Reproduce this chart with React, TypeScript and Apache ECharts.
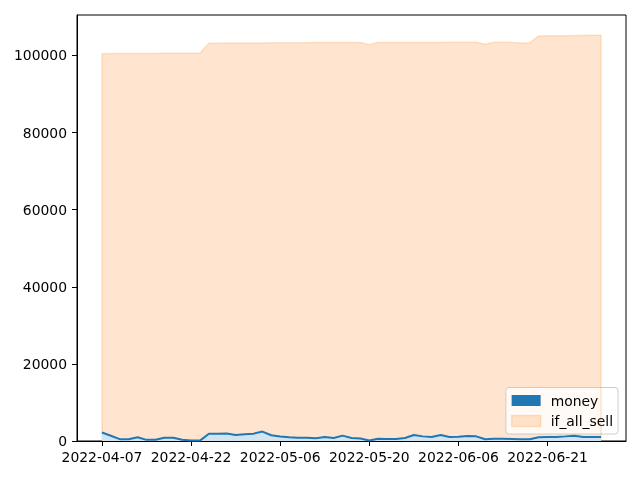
import React, { useEffect, useRef } from "react";
import * as echarts from "echarts";

const dates: string[] = [
  "2022-04-07", "2022-04-08", "2022-04-11", "2022-04-12", "2022-04-13", "2022-04-14",
  "2022-04-18", "2022-04-19", "2022-04-20", "2022-04-21", "2022-04-22",
  "2022-04-25", "2022-04-26", "2022-04-27", "2022-04-28", "2022-04-29",
  "2022-05-02", "2022-05-03", "2022-05-04", "2022-05-05", "2022-05-06",
  "2022-05-09", "2022-05-10", "2022-05-11", "2022-05-12", "2022-05-13",
  "2022-05-16", "2022-05-17", "2022-05-18", "2022-05-19", "2022-05-20",
  "2022-05-23", "2022-05-24", "2022-05-25", "2022-05-26", "2022-05-27",
  "2022-05-31", "2022-06-01", "2022-06-02", "2022-06-03",
  "2022-06-06", "2022-06-07", "2022-06-08", "2022-06-09", "2022-06-10",
  "2022-06-13", "2022-06-14", "2022-06-15", "2022-06-16", "2022-06-17",
  "2022-06-21", "2022-06-22", "2022-06-23", "2022-06-24",
  "2022-06-27", "2022-06-28", "2022-06-29",
];

const money: number[] = [
  2200, 1350, 480, 440, 960, 300, 300, 860, 860, 300,
  100, 100, 1900, 1850, 1950, 1550, 1760, 1900, 2450, 1500,
  1150, 950, 870, 870, 700, 1040, 780, 1400, 780, 650,
  130, 600, 520, 520, 780, 1550, 1200, 1040, 1550, 1040,
  1120, 1300, 1200, 440, 600, 600, 520, 440, 440, 950,
  1040, 1040, 1200, 1380, 1040, 1040, 1040,
];

const ifAllSell: number[] = [
  100450, 100470, 100480, 100500, 100500, 100510, 100520, 100540, 100550, 100560,
  100580, 100600, 103150, 103180, 103200, 103210, 103220, 103240, 103250, 103260,
  103270, 103290, 103300, 103310, 103320, 103330, 103340, 103350, 103360, 103370,
  102800, 103330, 103340, 103340, 103350, 103360, 103370, 103380, 103380, 103390,
  103400, 103410, 103420, 102900, 103420, 103420, 103380, 103250, 103280, 105050,
  105080, 105100, 105120, 105150, 105180, 105200, 105220,
];

const xTicks: number[] = [0, 10, 20, 30, 40, 50];
const yTicks: number[] = [0, 20000, 40000, 60000, 80000, 100000];

const FONT = "DejaVu Sans";
const BLUE = "#1f77b4";
const BLUE_FILL = "rgb(210,228,240)";
const ORANGE_A = "rgba(255,127,14,0.2)";

export default function App() {
  const ref = useRef<HTMLDivElement>(null);

  useEffect(() => {
    if (!ref.current) return;
    const chart = echarts.init(ref.current, null, { renderer: "svg" });
    const n = dates.length;
    const xPad = (n - 1) * 0.05;
    const yMax = Math.max(...ifAllSell) * 1.05;

    const moneyData = money.map((v, i) => [i, v]);
    const sellData = ifAllSell.map((v, i) => [i, v]);

    chart.setOption({
      animation: false,
      textStyle: { fontFamily: FONT },
      grid: {
        left: 77,
        right: 14,
        top: 15,
        bottom: 39,
        show: true,
        borderColor: "#000",
        borderWidth: 1,
        backgroundColor: "transparent",
      },
      legend: {
        orient: "vertical",
        right: 22,
        bottom: 46,
        backgroundColor: "rgba(255,255,255,0.8)",
        borderColor: "#cccccc",
        borderWidth: 1,
        borderRadius: 3,
        padding: [6, 5, 6, 5],
        itemGap: 6.5,
        itemWidth: 29,
        itemHeight: 11,
        textStyle: {
          fontFamily: FONT,
          fontSize: 13.9,
          color: "#000",
          padding: [0, 0, 0, 5],
        },
        data: [
          { name: "money", icon: "rect", itemStyle: { color: BLUE, borderWidth: 0 } },
          {
            name: "if_all_sell",
            icon: "rect",
            itemStyle: { color: ORANGE_A, borderColor: ORANGE_A, borderWidth: 1.5 },
          },
        ],
      },
      xAxis: {
        type: "value",
        min: -xPad,
        max: n - 1 + xPad,
        splitLine: { show: false },
        axisLine: { show: true, onZero: false, lineStyle: { color: "#000", width: 1 } },
        axisTick: {
          show: true,
          length: 5,
          lineStyle: { color: "#000", width: 1 },
          customValues: xTicks,
        },
        axisLabel: {
          customValues: xTicks,
          margin: 9,
          fontFamily: FONT,
          fontSize: 13.9,
          color: "#000",
          formatter: (v: number) => dates[Math.round(v)] ?? "",
        },
      },
      yAxis: {
        type: "value",
        min: 0,
        max: yMax,
        splitLine: { show: false },
        axisLine: { show: true, onZero: false, lineStyle: { color: "#000", width: 1 } },
        axisTick: {
          show: true,
          length: 5,
          lineStyle: { color: "#000", width: 1 },
          customValues: yTicks,
        },
        axisLabel: {
          customValues: yTicks,
          margin: 10,
          fontFamily: FONT,
          fontSize: 13.9,
          color: "#000",
          formatter: (v: number) => String(v),
        },
      },
      series: [
        {
          name: "if_all_sell",
          type: "line",
          data: sellData,
          showSymbol: false,
          symbol: "none",
          z: 2,
          lineStyle: { color: ORANGE_A, width: 1.5 },
          itemStyle: { color: ORANGE_A },
          areaStyle: { color: ORANGE_A, opacity: 1 },
          markLine: {
            silent: true,
            symbol: "none",
            label: { show: false },
            lineStyle: { color: ORANGE_A, width: 1.5, type: "solid" },
            data: [
              [{ coord: [0, 0] }, { coord: [0, ifAllSell[0]] }],
              [{ coord: [n - 1, 0] }, { coord: [n - 1, ifAllSell[n - 1]] }],
            ],
          },
        },
        {
          name: "money",
          type: "line",
          data: moneyData,
          showSymbol: false,
          symbol: "none",
          z: 5,
          lineStyle: { color: BLUE, width: 2 },
          itemStyle: { color: BLUE },
          areaStyle: { color: BLUE_FILL, opacity: 1 },
        },
      ],
    });
    return () => chart.dispose();
  }, []);

  return (
    <div
      ref={ref}
      style={{ position: "fixed", left: 0, top: 0, width: 640, height: 480 }}
    />
  );
}
